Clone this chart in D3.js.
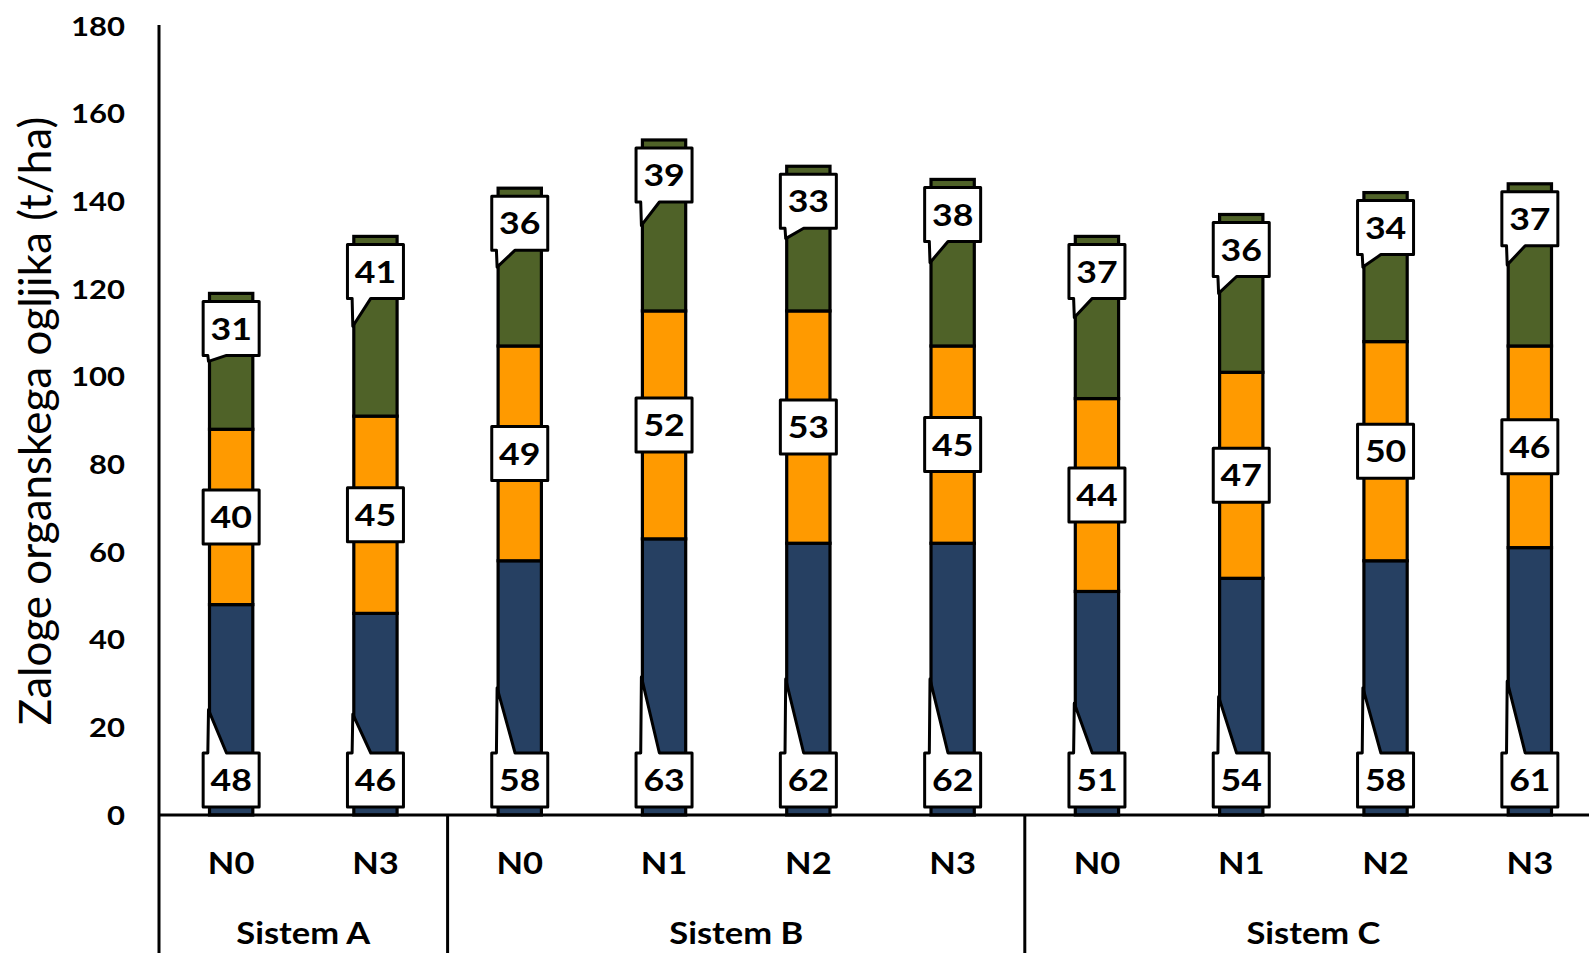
<!DOCTYPE html>
<html><head><meta charset="utf-8">
<script src="https://cdn.jsdelivr.net/npm/d3@7"></script>
<style>
html,body{margin:0;padding:0;background:#fff;overflow:hidden}
svg{display:block}
text{font-family:Lato,"Open Sans",sans-serif;fill:#000}
</style></head>
<body>
<svg id="chart" width="1589" height="953"></svg>
<script>
// ---- data ----
const categories = ["N0","N3","N0","N1","N2","N3","N0","N1","N2","N3"];
const groupNames = ["Sistem A","Sistem B","Sistem C"];
const groupSizes = [2,4,4];
const seriesKeys = ["navy","orange","green"];
const navyValues = [48,46,58,63,62,62,51,54,58,61];
const orangeValues = [40,45,49,52,53,45,44,47,50,46];
const greenValues = [31,41,36,39,33,38,37,36,34,37];
const yTickValues = [0,20,40,60,80,100,120,140,160,180];
const yTitle = "Zaloge organskega ogljika (t/ha)";

const colors = {navy:"#264062", orange:"#FF9A00", green:"#4F6228"};
const SX = 1.15; // horizontal text stretch

const rows = categories.map((c,i)=>({i, cat:c, navy:navyValues[i], orange:orangeValues[i], green:greenValues[i]}));

const svg = d3.select("#chart");
const x = d3.scaleBand().domain(d3.range(categories.length)).range([159, 1602]);
const y = d3.scaleLinear().domain([0,180]).range([815, 26]);
const barW = x.bandwidth()*0.3;

const stacked = d3.stack().keys(seriesKeys)(rows);

// bars
const gBars = svg.append("g");
stacked.forEach(layer=>{
  gBars.selectAll(null).data(layer).enter().append("rect")
    .attr("x", d=>x(d.data.i)+x.bandwidth()/2-barW/2)
    .attr("width", barW)
    .attr("y", d=>y(d[1]))
    .attr("height", d=>y(d[0])-y(d[1]))
    .attr("fill", colors[layer.key])
    .attr("stroke","#000").attr("stroke-width",3.2);
});

// axes lines
const axisG = svg.append("g");
axisG.append("line").attr("x1",159).attr("x2",1589).attr("y1",y(0)).attr("y2",y(0))
  .attr("stroke","#000").attr("stroke-width",3);
axisG.append("line").attr("x1",159).attr("x2",159).attr("y1",y(180)-1).attr("y2",953)
  .attr("stroke","#000").attr("stroke-width",3);

// group separators
let idx = 0;
const groupSpans = groupSizes.map((n,gi)=>{ const s=idx; idx+=n; return {name:groupNames[gi], s, e:idx}; });
groupSpans.forEach(g=>{
  if(g.s>0){
    axisG.append("line").attr("x1",x(g.s)).attr("x2",x(g.s)).attr("y1",y(0)).attr("y2",953)
      .attr("stroke","#000").attr("stroke-width",3);
  }
});

// y tick labels
svg.append("g").selectAll("text").data(yTickValues).enter().append("text")
  .attr("transform", d=>`translate(125,${y(d)}) scale(${SX},1)`)
  .attr("text-anchor","end").attr("dy","0.36em")
  .attr("font-size",27).attr("font-weight","bold")
  .text(d=>d);

// category labels
svg.append("g").selectAll("text").data(rows).enter().append("text")
  .attr("transform", d=>`translate(${x(d.i)+x.bandwidth()/2},863) scale(${SX},1)`)
  .attr("text-anchor","middle").attr("dy","0.36em")
  .attr("font-size",30).attr("font-weight","bold")
  .text(d=>d.cat);

// group labels
svg.append("g").selectAll("text").data(groupSpans).enter().append("text")
  .attr("transform", d=>`translate(${(x(d.s)+ (d.e<categories.length? x(d.e) : x(d.e-1)+x.bandwidth()))/2},933) scale(${SX},1)`)
  .attr("text-anchor","middle").attr("dy","0.36em")
  .attr("font-size",30).attr("font-weight","bold")
  .text(d=>d.name);

// y title
svg.append("text")
  .attr("transform", `translate(35,421) rotate(-90)`)
  .attr("text-anchor","middle").attr("dy","0.36em")
  .attr("font-size",44)
  .text(yTitle);

// callout labels
const boxW = 56, boxH = 54;
function calloutPath(cx, cy, tipX, tipY){
  const bx = cx-boxW/2, by = cy-boxH/2, w=boxW, h=boxH;
  if(tipY < by){ // tail up
    return `M${bx},${by}L${bx+w/12},${by}L${tipX},${tipY}L${bx+5*w/12},${by}L${bx+w},${by}L${bx+w},${by+h}L${bx},${by+h}Z`;
  } else if(tipY > by+h){ // tail down
    return `M${bx},${by}L${bx+w},${by}L${bx+w},${by+h}L${bx+5*w/12},${by+h}L${tipX},${tipY}L${bx+w/12},${by+h}L${bx},${by+h}Z`;
  }
  return `M${bx},${by}L${bx+w},${by}L${bx+w},${by+h}L${bx},${by+h}Z`;
}
const labels = [];
stacked.forEach(layer=>{
  layer.forEach(d=>{
    const cx = x(d.data.i)+x.bandwidth()/2;
    const barLeft = cx - barW/2;
    const mid = y((d[0]+d[1])/2);
    let cy;
    if(layer.key==="navy") cy = y(d[0]) - 35;
    else if(layer.key==="orange") cy = mid;
    else cy = y(d[1]) + 35;
    labels.push({cx, cy, tipX: barLeft-1, tipY: mid, val: d.data[layer.key]});
  });
});
const gLab = svg.append("g");
gLab.selectAll("path").data(labels).enter().append("path")
  .attr("d", d=>calloutPath(d.cx,d.cy,d.tipX,d.tipY))
  .attr("fill","#fff").attr("stroke","#000").attr("stroke-width",3).attr("stroke-linejoin","round");
gLab.selectAll("text").data(labels).enter().append("text")
  .attr("transform", d=>`translate(${d.cx},${d.cy}) scale(${SX},1)`)
  .attr("text-anchor","middle").attr("dy","0.36em")
  .attr("font-size",31).attr("font-weight","bold")
  .text(d=>d.val);
</script>
</body></html>
